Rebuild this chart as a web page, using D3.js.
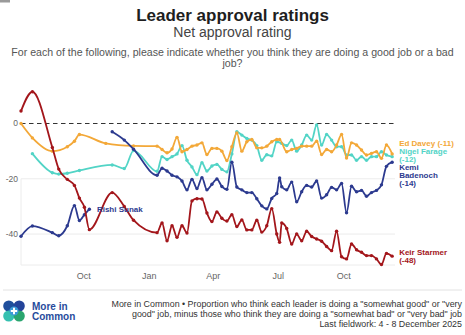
<!DOCTYPE html>
<html>
  <head>
    <meta charset="utf-8">
    <title>Leader approval ratings</title>
    <script src="https://cdn.jsdelivr.net/npm/d3@7"></script>
    <style>
      body { margin: 0; background: #fff; }
      svg text { font-family: "Liberation Sans", Arial, sans-serif; }
    </style>
  </head>
  <body>
    <svg width="465" height="335"></svg>
    <script>
    // fieldwork dates (end of each wave)
    var dates = [
      "2024-07-05","2024-07-21","2024-08-18","2024-08-27","2024-09-08","2024-09-18","2024-09-25","2024-10-02","2024-10-09","2024-11-01","2024-11-10","2024-11-27","2024-12-10",
      "2025-01-12","2025-01-19","2025-01-26","2025-02-02","2025-02-09","2025-02-16","2025-02-23","2025-03-02","2025-03-09","2025-03-16","2025-03-23","2025-03-30",
      "2025-04-06","2025-04-13","2025-04-20","2025-04-27","2025-05-04","2025-05-11","2025-05-18","2025-05-25","2025-06-01","2025-06-08","2025-06-15","2025-06-22","2025-06-29",
      "2025-07-03","2025-07-06","2025-07-13","2025-07-20","2025-07-27","2025-08-03","2025-08-10","2025-08-17","2025-08-24","2025-08-31","2025-09-07","2025-09-14","2025-09-21","2025-09-28",
      "2025-10-05","2025-10-12","2025-10-19","2025-10-26","2025-11-02","2025-11-09","2025-11-16","2025-11-23","2025-11-30","2025-12-08"
    ];

    // net approval, null = not asked that wave
    var starmer = [
      4.5, 11.5, -8.7, -16.5, -20.2, -22.4, -27, -30.3, -38.4, null, -25, -30, -35,
      -39.5, -36, -42.4, -37, -41.2, -37, -39.6, -28, -27.2, -27.3, -32.4, -35.5,
      -32, -34.3, -35.3, -33, -37.3, -34.9, -38.5, -38.5, -35, -39.3, -37, -30.8, -40,
      -43, -36, -38, -43.6, -40, -42.4, -39, -40.9, -41.8, -42.6, -44.5, -46, -39, -48.2,
      -49, -43.6, -45.7, -46.6, -47.8, -47.8, -49, -51, -47, -48
    ];
    var davey = [
      0, -5.2, -10, null, -8.4, -6.4, -4, null, null, -7.2, null, null, -8.1,
      -8.2, -9.4, -10.6, -9.2, -5, -10.2, -9.4, -8.2, -7.8, -7, -11.2, -9,
      -9, -10, -13.4, -8.4, -3.4, -10, -6.6, -5.8, -8.8, -8.8, -8.2, -6.6, -5.8,
      -5.8, null, -10.2, -9.4, -9, -8.2, -8.2, -8.2, -6.4, -11.2, -9.4, -10.2, -7.8, -4,
      -12.5, -7, -7.8, -9.6, -11.4, -10.8, -10.2, -12.6, -7.8, -11
    ];
    var farage = [
      null, -10.9, -17.8, -18.3, -18, null, -17, null, null, null, -15, -16.3, -9.8,
      -17.3, -12, -13, -12, -11, -8, -13.3, -15.7, -18.5, -14.2, -17.2, -15.4,
      -14.8, -16.6, -17.5, -11, -3, -4.2, -5.4, -6, -8, -13.3, -11.3, -11.7, -6.6,
      null, -7.2, -8, -6, -10, -7.8, -4.2, -6, -0.5, -7.8, -4, -6, -8.4, -8.4,
      -11.4, -11.4, -13.3, -12, -13.3, -12, -12, -10.2, -11.4, -12
    ];
    var badenoch = [
      null, null, null, null, null, null, null, null, null, null, -3, -6, -9.3,
      -18.7, -16.2, -17.2, -18.7, -19.3, -20.8, -24, -20.2, -23.5, -19.6, -24, -22,
      -20.1, -22.8, -23.8, -14, -23, -24, -25, -25, -27.2, -29.8, -30.9, -27.1, -25.3,
      -19.7, -22.9, -24, -21.2, -28.3, -24.7, -22.4, -23, -20.8, -27, -25.8, -23.1, -24, -21.7,
      -32.3, -22.7, -24.7, -24.2, -26.3, -25, -24.2, -22.2, -15.5, -14
    ];
    var sunak = [
      -40.8, -37.1, -39.5, -40.6, -37, -29.7, -35.1, -33, -31
    ];

    var yTicks = [0, -20, -40];

    var parse = d3.timeParse("%Y-%m-%d");
    var when = dates.map(parse);

    function points(vals) {
      var out = [];
      vals.forEach(function(v, i) {
        if (v != null) out.push({date: when[i], value: v});
      });
      return out;
    }

    var series = [
      {name: ["Nigel Farage"], color: "#52d4c6", pts: points(farage), end: true},
      {name: ["Ed Davey"], color: "#f3a838", pts: points(davey), end: true, inline: true},
      {name: ["Rishi Sunak"], color: "#2c3a8f", pts: points(sunak), end: false},
      {name: ["Kemi", "Badenoch"], color: "#2c3a8f", pts: points(badenoch), end: true},
      {name: ["Keir Starmer"], color: "#a3161b", pts: points(starmer), end: true}
    ];

    var svg = d3.select("svg");
    var width = +svg.attr("width");

    // headings
    svg.append("rect").attr("x", 0).attr("y", 0).attr("width", 10).attr("height", 2.5).attr("fill", "#9a9a9a");
    svg.append("text").attr("x", width / 2).attr("y", 20.5).attr("text-anchor", "middle")
      .attr("font-size", 17).attr("font-weight", "bold").attr("fill", "#1e1e1e")
      .text("Leader approval ratings");
    svg.append("text").attr("x", width / 2).attr("y", 36.5).attr("text-anchor", "middle")
      .attr("font-size", 14).attr("fill", "#444")
      .text("Net approval rating");
    var q = svg.append("text").attr("text-anchor", "middle").attr("font-size", 10.6).attr("fill", "#555");
    q.append("tspan").attr("x", width / 2).attr("y", 55.5)
      .text("For each of the following, please indicate whether you think they are doing a good job or a bad");
    q.append("tspan").attr("x", width / 2).attr("y", 67).text("job?");

    // scales
    var x = d3.scaleTime()
      .domain([parse("2024-07-05"), parse("2025-12-12")])
      .range([21, 395]);
    var y = d3.scaleLinear()
      .domain([-51.2, 12.85])
      .range([265, 88]);

    var g = svg.append("g");

    // frame and grid
    g.append("line").attr("x1", 21).attr("x2", 21).attr("y1", y(-20)).attr("y2", 265)
      .attr("stroke", "#ececec");
    g.append("line").attr("x1", 21).attr("x2", 395).attr("y1", 265).attr("y2", 265)
      .attr("stroke", "#ececec");
    g.selectAll(".grid")
      .data(yTicks)
      .enter()
      .append("line")
      .attr("x1", 21).attr("x2", 395)
      .attr("y1", function(d) { return y(d); })
      .attr("y2", function(d) { return y(d); })
      .attr("stroke", function(d) { return d === 0 ? "#333" : "#ececec"; })
      .attr("stroke-width", function(d) { return d === 0 ? 1.2 : 1; })
      .attr("stroke-dasharray", function(d) { return d === 0 ? "4.5,3.5" : null; });

    g.selectAll(".ylab")
      .data(yTicks)
      .enter()
      .append("text")
      .attr("x", 18)
      .attr("y", function(d) { return y(d); })
      .attr("dy", "0.35em")
      .attr("text-anchor", "end")
      .attr("font-size", 8.5)
      .attr("fill", "#666")
      .text(function(d) { return d; });

    g.selectAll(".xlab")
      .data(x.ticks(d3.timeMonth.every(3)))
      .enter()
      .append("text")
      .attr("x", function(d) { return x(d); })
      .attr("y", 279)
      .attr("text-anchor", "middle")
      .attr("font-size", 9)
      .attr("fill", "#666")
      .text(d3.timeFormat("%b"));

    // lines and markers
    var line = d3.line()
      .x(function(d) { return x(d.date); })
      .y(function(d) { return y(d.value); })
      .curve(d3.curveMonotoneX);

    var gs = g.selectAll(".series")
      .data(series)
      .enter()
      .append("g");

    gs.append("path")
      .attr("d", function(d) { return line(d.pts); })
      .attr("fill", "none")
      .attr("stroke", function(d) { return d.color; })
      .attr("stroke-width", 1.8);

    gs.each(function(s) {
      d3.select(this).selectAll("circle")
        .data(s.pts)
        .enter()
        .append("circle")
        .attr("cx", function(d) { return x(d.date); })
        .attr("cy", function(d) { return y(d.value); })
        .attr("r", 1.7)
        .attr("fill", s.color);
    });

    // Sunak's label sits at the end of his line
    var sun = series[2];
    var sunLast = sun.pts[sun.pts.length - 1];
    g.append("text")
      .attr("x", x(sunLast.date) + 7.5)
      .attr("y", y(sunLast.value))
      .attr("dy", "0.35em")
      .attr("font-size", 8)
      .attr("font-weight", "bold")
      .attr("fill", sun.color)
      .text(sun.name[0]);

    // end labels, nudged apart so blocks don't overlap
    var lh = 8;
    var blocks = series.filter(function(s) { return s.end; }).map(function(s) {
      var last = s.pts[s.pts.length - 1];
      var tag = "(" + Math.round(last.value) + ")";
      var lines = s.inline ? [s.name.join(" ") + " " + tag] : s.name.concat([tag]);
      return {lines: lines, color: s.color, h: lines.length * lh, target: y(last.value), date: last.date};
    }).sort(function(a, b) { return a.target - b.target; });

    var clusters = blocks.map(function(b) { return {items: [b]}; });
    function place(c) {
      var off = 0, sum = 0;
      c.items.forEach(function(b) { b.off = off; sum += b.target - off - b.h / 2; off += b.h; });
      c.h = off;
      c.top = sum / c.items.length;
    }
    clusters.forEach(place);
    var merged = true;
    while (merged) {
      merged = false;
      for (var i = 0; i < clusters.length - 1; i++) {
        if (clusters[i].top + clusters[i].h > clusters[i + 1].top) {
          clusters[i].items = clusters[i].items.concat(clusters[i + 1].items);
          clusters.splice(i + 1, 1);
          place(clusters[i]);
          merged = true;
          break;
        }
      }
    }

    clusters.forEach(function(c) {
      c.items.forEach(function(b) {
        var t = g.append("text")
          .attr("font-size", 8)
          .attr("font-weight", "bold")
          .attr("fill", b.color);
        b.lines.forEach(function(l, j) {
          t.append("tspan")
            .attr("x", x(b.date) + 7)
            .attr("y", c.top + b.off + lh * (j + 0.5))
            .attr("dy", "0.35em")
            .text(l);
        });
      });
    });

    // footer
    svg.append("line").attr("x1", 3).attr("x2", 462).attr("y1", 290).attr("y2", 290)
      .attr("stroke", "#e2e2e2");

    var logo = svg.append("g").attr("transform", "translate(14,311)");
    var petals = [[-5.2, -5, "#1f4f9c"], [5.2, -5, "#24449a"], [-5.2, 5, "#35c0b0"], [5.2, 5, "#2aa56e"]];
    logo.selectAll("circle")
      .data(petals)
      .enter()
      .append("circle")
      .attr("cx", function(d) { return d[0]; })
      .attr("cy", function(d) { return d[1]; })
      .attr("r", 5.6)
      .attr("fill", function(d) { return d[2]; });
    logo.append("circle").attr("r", 4.6).attr("fill", "#3b9ad6");
    logo.append("path").attr("d", "M-1,-3.2H1V-1H3.2V1H1V3.2H-1V1H-3.2V-1H-1Z").attr("fill", "#fff");

    var brand = svg.append("text").attr("font-size", 10).attr("font-weight", "bold").attr("fill", "#274b9c");
    brand.append("tspan").attr("x", 32).attr("y", 310).text("More in");
    brand.append("tspan").attr("x", 32).attr("y", 320).text("Common");

    var note = svg.append("text").attr("text-anchor", "end").attr("font-size", 8.9).attr("fill", "#333");
    note.append("tspan").attr("x", 462).attr("y", 307)
      .text("More in Common \u2022 Proportion who think each leader is doing a \"somewhat good\" or \"very");
    note.append("tspan").attr("x", 462).attr("y", 317)
      .text("good\" job, minus those who think they are doing a \"somewhat bad\" or \"very bad\" job");
    note.append("tspan").attr("x", 462).attr("y", 327)
      .text("Last fieldwork: 4 - 8 December 2025");
    </script>
  </body>
</html>
